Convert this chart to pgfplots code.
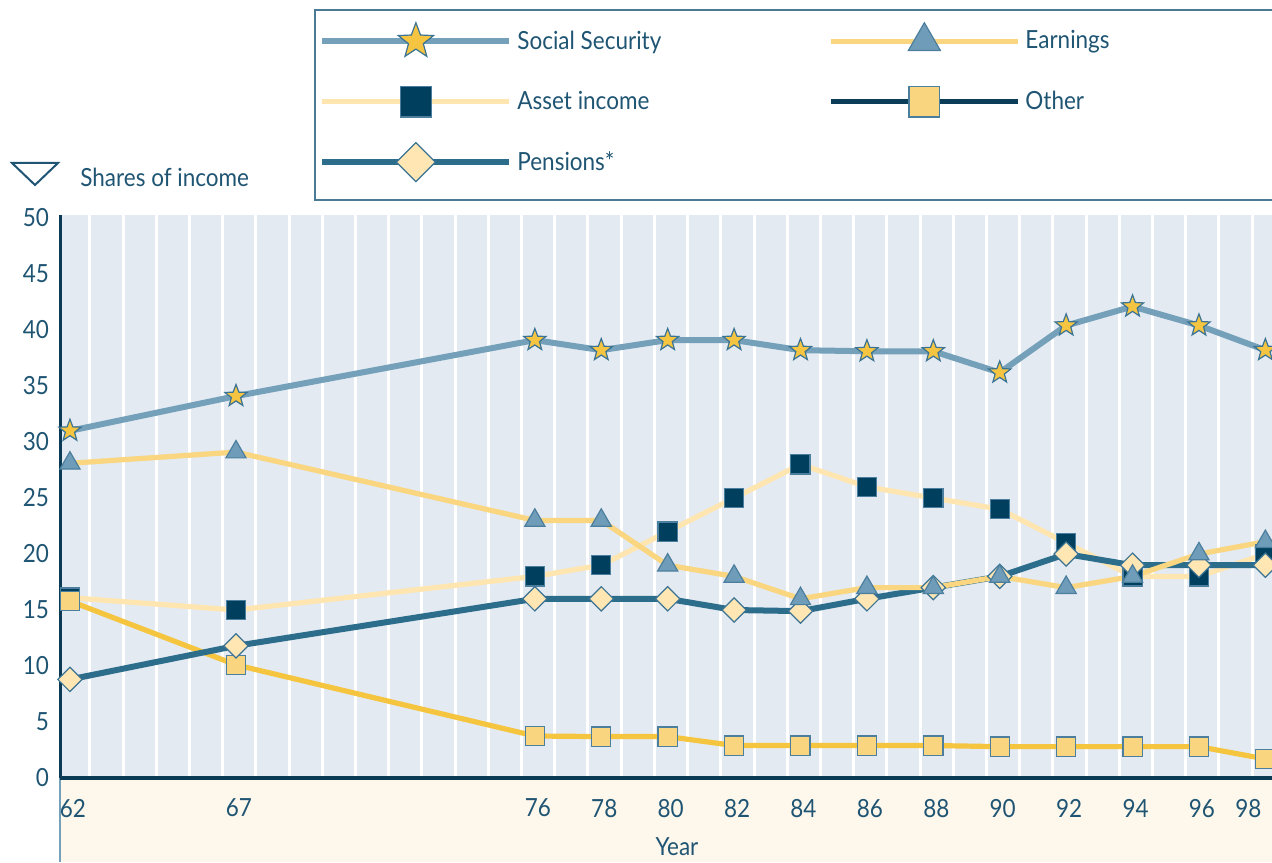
\documentclass[border=0pt]{standalone}
\usepackage{fontspec}
\setmainfont[FakeStretch=0.9]{Lato}
\usepackage{pgfplots}
\pgfplotsset{compat=1.18}
\definecolor{bgc}{HTML}{E3EAF1}
\definecolor{cream}{HTML}{FEF7EC}
\definecolor{txt}{HTML}{1F5573}
\definecolor{axc}{HTML}{0B3A55}
\definecolor{boxc}{HTML}{4B7A94}
\definecolor{ssl}{HTML}{74A0BA}
\definecolor{gold}{HTML}{F5C542}
\definecolor{earnl}{HTML}{F9D67F}
\definecolor{triF}{HTML}{6F9CB8}
\definecolor{triE}{HTML}{4C7F9E}
\definecolor{assetl}{HTML}{FFE5B0}
\definecolor{navy}{HTML}{003F5E}
\definecolor{othl}{HTML}{F5C540}
\definecolor{othF}{HTML}{FAD580}
\definecolor{penl}{HTML}{2C6D8C}
\definecolor{dia}{HTML}{FFE6B3}
\definecolor{mkE}{HTML}{3A7393}
\definecolor{othleg}{HTML}{0B3D58}
\pgfdeclareplotmark{fstar}{%
  \pgfpathmoveto{\pgfqpointpolar{90}{\pgfplotmarksize}}%
  \pgfpathlineto{\pgfqpointpolar{126}{0.42\pgfplotmarksize}}%
  \pgfpathlineto{\pgfqpointpolar{162}{\pgfplotmarksize}}%
  \pgfpathlineto{\pgfqpointpolar{198}{0.42\pgfplotmarksize}}%
  \pgfpathlineto{\pgfqpointpolar{234}{\pgfplotmarksize}}%
  \pgfpathlineto{\pgfqpointpolar{270}{0.42\pgfplotmarksize}}%
  \pgfpathlineto{\pgfqpointpolar{306}{\pgfplotmarksize}}%
  \pgfpathlineto{\pgfqpointpolar{342}{0.42\pgfplotmarksize}}%
  \pgfpathlineto{\pgfqpointpolar{18}{\pgfplotmarksize}}%
  \pgfpathlineto{\pgfqpointpolar{54}{0.42\pgfplotmarksize}}%
  \pgfpathclose
  \pgfusepathqfillstroke
}
\begin{document}
\begin{tikzpicture}
\useasboundingbox (0pt,0pt) rectangle (636pt,431pt);
\fill[cream] (30pt,0pt) rectangle (640pt,42pt);
\draw[ssl, line width=1pt] (30pt,0pt) -- (30pt,42pt);
\draw[boxc, line width=1pt] (157.5pt,331pt) rectangle (645pt,426pt);
\draw[txt, line width=1pt, line join=miter] (6pt,349.5pt) -- (29pt,349.5pt) -- (17.5pt,338.5pt) -- cycle;
\node[anchor=west, text=txt, font=\fontsize{12.5}{14}\selectfont, inner sep=0pt] at (40pt,342.5pt) {Shares of income};
\node[text=txt, font=\fontsize{12.5}{14}\selectfont, inner sep=0pt] at (338.5pt,7.5pt) {Year};
\begin{axis}[
  at={(30pt,42pt)}, anchor=south west,
  scale only axis, width=606pt, height=281.5pt,
  xmin=61.7, xmax=98.2, ymin=0, ymax=50.27,
  axis background/.style={fill=bgc},
  axis x line*=bottom, axis y line*=left,
  x axis line style={line width=2pt, color=axc, -},
  y axis line style={line width=1.5pt, color=axc, -},
  xtick={62,67,76,78,80,82,84,86,88,90,92,94,96,97.4},
  xticklabels={62,67,76,78,80,82,84,86,88,90,92,94,96,98},
  minor xtick={62.6,63.6,...,97.6},
  xminorgrids=true,
  minor grid style={white, line width=1.5pt},
  major tick length=0pt, minor tick length=0pt,
  ytick={0,5,...,50},
  /pgf/number format/assume math mode=true,
  ticklabel style={text=txt, font=\fontsize{12.5}{14}\selectfont},
  xticklabel style={yshift=-7pt, xshift=1.5pt},
  yticklabel style={xshift=-2pt},
  legend columns=2,
  legend cell align=left,
  legend style={draw=none, fill=none, at={(0.2137,1.3447)}, anchor=north west,
    inner sep=0pt, row sep=10.2pt,
    /tikz/every even column/.append style={column sep=81pt},
    nodes={text=txt, font=\fontsize{12.5}{14}\selectfont, inner sep=2.5pt}},
  legend image code/.code={%
    \path[draw=none, fill=none] (0pt,-10pt) rectangle (93.5pt,10pt);
    \draw[mark repeat=2, mark phase=2, #1, /tikz/every mark/.append style={scale=1.6}]
      plot coordinates {(0pt,0pt) (46.75pt,0pt) (93.5pt,0pt)};},
]
% draw order: Asset, Other, Pensions, Earnings, Social Security
\addplot[forget plot, assetl, line width=2.6pt, mark=square*, mark size=4.8pt,
  mark options={fill=navy, draw=triE, line width=0.6pt}]
  coordinates {(62,16.1) (67,15) (76,18) (78,19) (80,22) (82,25) (84,28) (86,26) (88,25) (90,24) (92,21) (94,18) (96,18) (98,20)};
\addplot[forget plot, othl, line width=2.6pt, mark=square*, mark size=4.8pt,
  mark options={fill=othF, draw=triE, line width=0.6pt}]
  coordinates {(62,15.8) (67,10.1) (76,3.75) (78,3.7) (80,3.7) (82,2.9) (84,2.9) (86,2.9) (88,2.9) (90,2.8) (92,2.8) (94,2.8) (96,2.8) (98,1.7)};
\addplot[forget plot, penl, line width=3pt, mark=square*, mark size=4.3pt,
  mark options={fill=dia, draw=mkE, line width=0.6pt, rotate=45}]
  coordinates {(62,8.8) (67,11.8) (76,16) (78,16) (80,16) (82,15) (84,14.9) (86,16) (88,17) (90,18) (92,20) (94,19) (96,19) (98,19)};
\addplot[forget plot, earnl, line width=2.6pt, mark=triangle*, mark size=5.8pt,
  mark options={fill=triF, draw=triE, line width=0.6pt}]
  coordinates {(62,28.1) (67,29.1) (76,23) (78,23) (80,19) (82,18) (84,16) (86,17) (88,17) (90,18) (92,17) (94,18) (96,20) (98,21.1)};
\addplot[forget plot, ssl, line width=3pt, mark=fstar, mark size=5.8pt,
  mark options={fill=gold, draw=mkE, line width=0.6pt}]
  coordinates {(62,31.0) (67,34.1) (76,39.1) (78,38.2) (80,39.1) (82,39.1) (84,38.2) (86,38.1) (88,38.1) (90,36.2) (92,40.4) (94,42.1) (96,40.4) (98,38.2)};
% legend (as in the reference)
\addlegendimage{ssl, line width=3pt, mark=fstar, mark size=5.8pt, mark options={fill=gold, draw=mkE, line width=0.6pt}}
\addlegendentry{Social Security}
\addlegendimage{earnl, line width=2.6pt, mark=triangle*, mark size=5.8pt, mark options={fill=triF, draw=triE, line width=0.6pt}}
\addlegendentry{Earnings}
\addlegendimage{assetl, line width=2.6pt, mark=square*, mark size=4.8pt, mark options={fill=navy, draw=triE, line width=0.6pt}}
\addlegendentry{Asset income}
\addlegendimage{othleg, line width=2.6pt, mark=square*, mark size=4.8pt, mark options={fill=othF, draw=triE, line width=0.6pt}}
\addlegendentry{Other}
\addlegendimage{penl, line width=3pt, mark=square*, mark size=4.3pt, mark options={fill=dia, draw=mkE, line width=0.6pt, rotate=45}}
\addlegendentry{Pensions*}
\end{axis}
\end{tikzpicture}
\end{document}
